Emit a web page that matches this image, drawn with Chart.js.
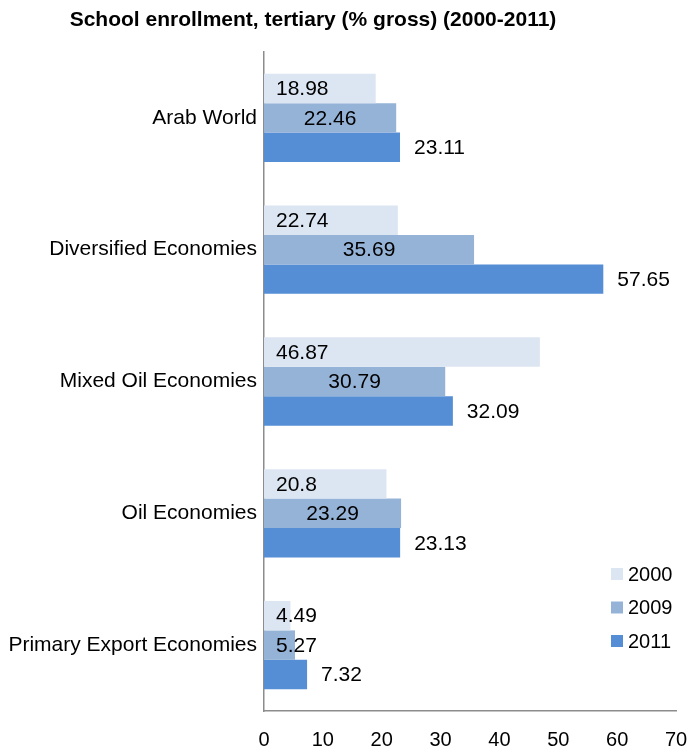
<!DOCTYPE html>
<html>
<head>
<meta charset="utf-8">
<script src="https://cdn.jsdelivr.net/npm/chart.js@4.4.1/dist/chart.umd.min.js"></script>
<style>
  html, body { margin: 0; padding: 0; background: #fff; }
  #wrap { width: 687px; height: 752px; position: relative; }
</style>
</head>
<body>
<div id="wrap"><canvas id="chart"></canvas></div>
<script>
// --- data ---
const categories = [
  "Arab World",
  "Diversified Economies",
  "Mixed Oil Economies",
  "Oil Economies",
  "Primary Export Economies"
];
const years = ["2000", "2009", "2011"];
const values2000 = [18.98, 22.74, 46.87, 20.8, 4.49];
const values2009 = [22.46, 35.69, 30.79, 23.29, 5.27];
const values2011 = [23.11, 57.65, 32.09, 23.13, 7.32];
const xTicks = [0, 10, 20, 30, 40, 50, 60, 70];
const chartTitle = "School enrollment, tertiary (% gross) (2000-2011)";

const colors = ["#dce6f2", "#95b3d7", "#558ed5"];
const FONT = "'Liberation Sans', Arial, Helvetica, sans-serif";

// title drawn left of center, over the whole canvas
const titlePlugin = {
  id: "titleText",
  afterDraw(chart) {
    const ctx = chart.ctx;
    ctx.save();
    ctx.font = "bold 21px " + FONT;
    ctx.fillStyle = "#000";
    ctx.textAlign = "center";
    ctx.textBaseline = "middle";
    ctx.fillText(chartTitle, 313, 20);
    ctx.restore();
  }
};

// value labels: 2000 inside base, 2009 centred, 2011 outside end
const valueLabels = {
  id: "valueLabels",
  afterDatasetsDraw(chart) {
    const ctx = chart.ctx;
    ctx.save();
    ctx.font = "21px " + FONT;
    ctx.fillStyle = "#000";
    ctx.textBaseline = "middle";
    chart.data.datasets.forEach((ds, i) => {
      const meta = chart.getDatasetMeta(i);
      meta.data.forEach((bar, j) => {
        const { x, y, base } = bar.getProps(["x", "y", "base"], true);
        const txt = String(ds.data[j]);
        const w = ctx.measureText(txt).width;
        let tx;
        if (i === 0) {
          tx = base + 12;
        } else if (i === 1) {
          tx = Math.max((base + x) / 2 - w / 2, base + 12);
        } else {
          tx = x + 14;
        }
        ctx.textAlign = "left";
        ctx.fillText(txt, tx, y + 1);
      });
    });
    ctx.restore();
  }
};

// small legend in the lower right of the plot
const cornerLegend = {
  id: "cornerLegend",
  afterDraw(chart) {
    const ctx = chart.ctx;
    const area = chart.chartArea;
    const bx = area.right - 65;
    const y0 = area.bottom - 137;
    ctx.save();
    ctx.font = "20px " + FONT;
    ctx.textBaseline = "middle";
    ctx.textAlign = "left";
    chart.data.datasets.forEach((ds, i) => {
      const cy = y0 + i * 33.5;
      ctx.fillStyle = ds.backgroundColor;
      ctx.fillRect(bx, cy - 6, 12, 12);
      ctx.fillStyle = "#000";
      ctx.fillText(ds.label, bx + 17, cy + 1);
    });
    ctx.restore();
  }
};

new Chart(document.getElementById("chart"), {
  type: "bar",
  data: {
    labels: categories,
    datasets: [
      { label: years[0], data: values2000, backgroundColor: colors[0] },
      { label: years[1], data: values2009, backgroundColor: colors[1] },
      { label: years[2], data: values2011, backgroundColor: colors[2] }
    ]
  },
  options: {
    indexAxis: "y",
    responsive: true,
    maintainAspectRatio: false,
    animation: false,
    categoryPercentage: 0.67,
    barPercentage: 1.0,
    layout: { padding: { top: 52, left: 0, right: 11, bottom: 0 } },
    plugins: {
      legend: { display: false },
      title: { display: false },
      tooltip: { enabled: false }
    },
    scales: {
      x: {
        min: 0,
        max: 70,
        afterBuildTicks(scale) {
          scale.ticks = xTicks.map(v => ({ value: v }));
        },
        afterFit(scale) {
          scale.height = 41;
          scale.paddingLeft = 0;
          scale.paddingRight = 0;
        },
        grid: { display: false, drawTicks: false },
        border: { display: true, color: "#8c8c8c", width: 1.5 },
        ticks: {
          padding: 17,
          color: "#000",
          font: { family: FONT, size: 20 }
        }
      },
      y: {
        afterFit(scale) { scale.width = 264; },
        grid: { display: false, drawTicks: false },
        border: { display: true, color: "#8c8c8c", width: 1.5 },
        ticks: {
          padding: 7,
          color: "#000",
          font: { family: FONT, size: 21 }
        }
      }
    }
  },
  plugins: [titlePlugin, valueLabels, cornerLegend]
});
</script>
</body>
</html>
